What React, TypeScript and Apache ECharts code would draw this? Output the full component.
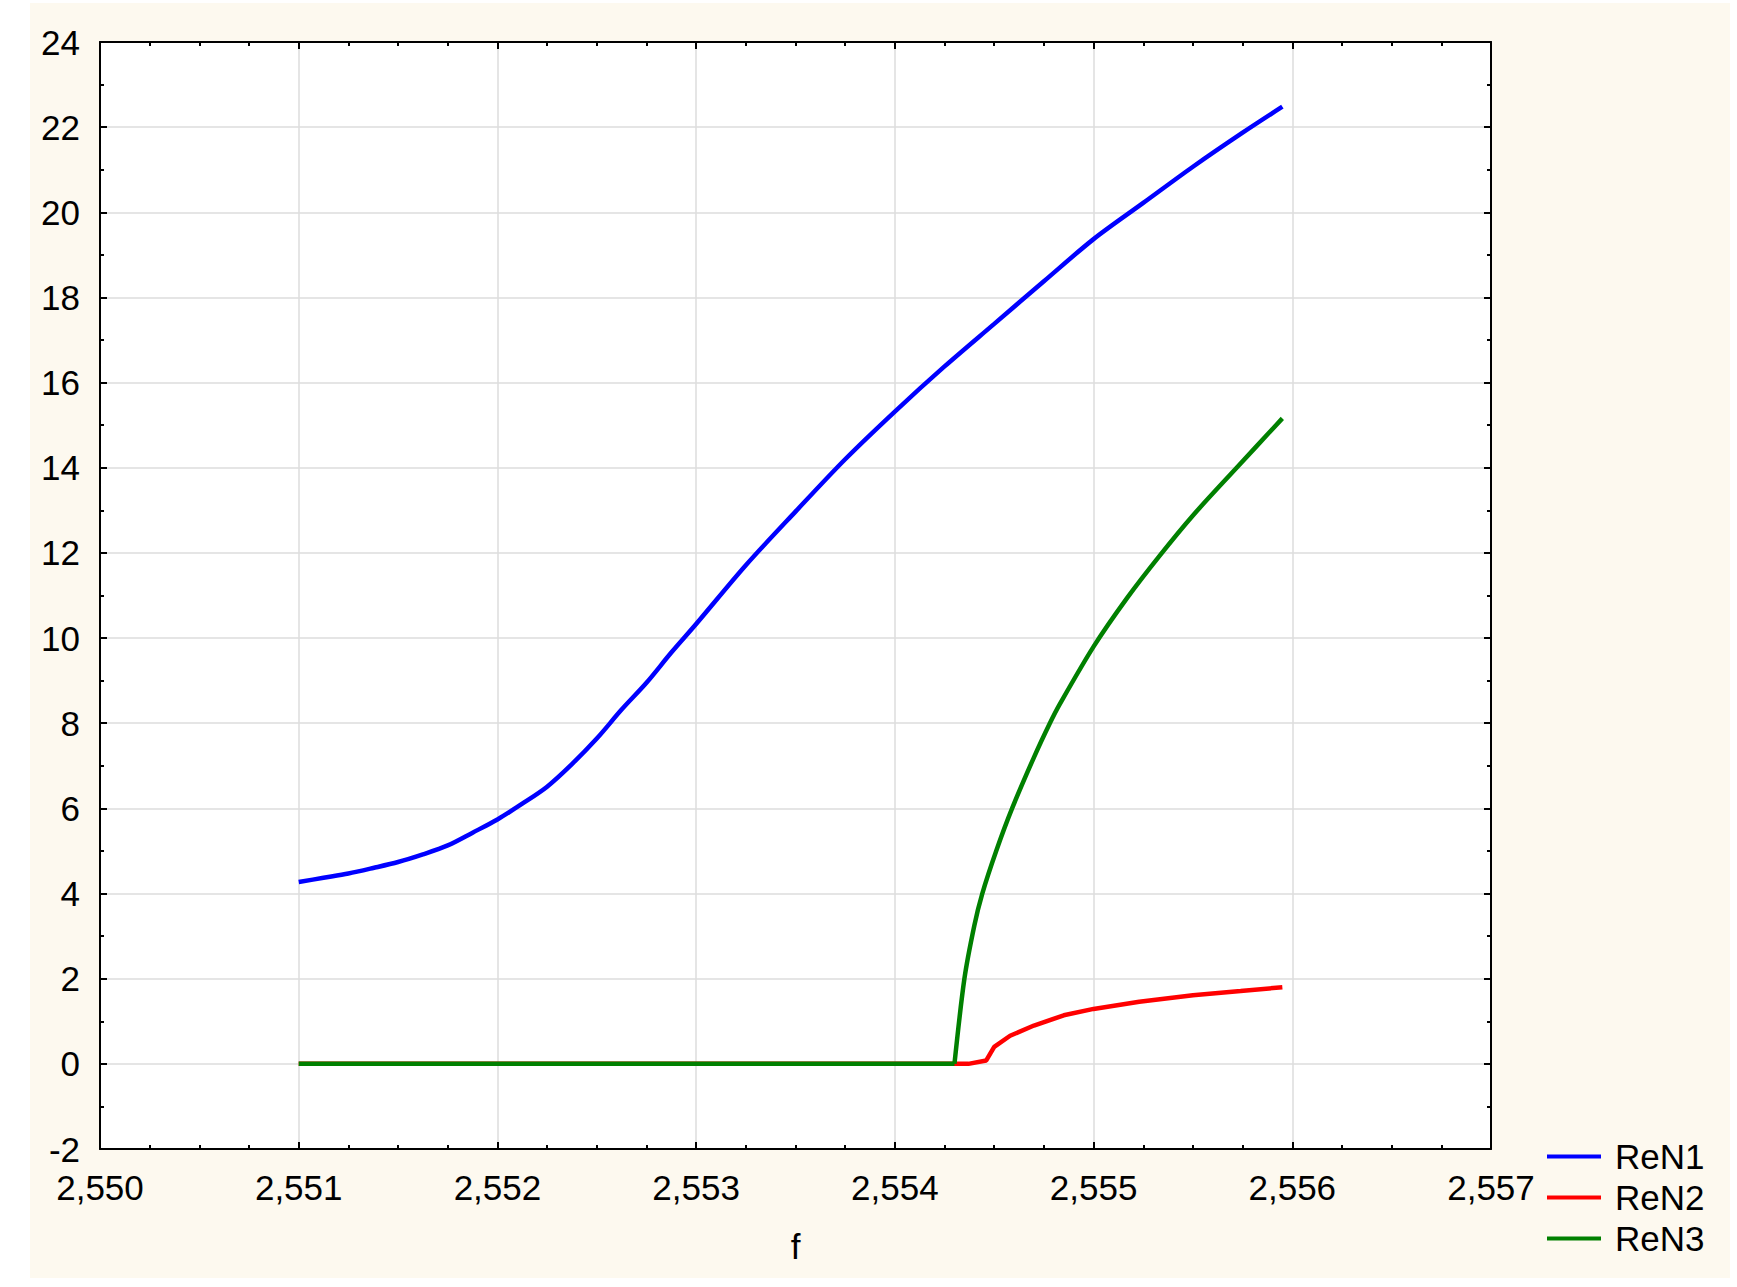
import React, { useEffect, useRef } from "react";
import * as echarts from "echarts";

// f values and ReN1 readings
const F1 = [2.551, 2.551125, 2.55125, 2.551375, 2.5515, 2.551625, 2.55175, 2.551875, 2.552, 2.552125, 2.55225, 2.552375, 2.5525, 2.552625, 2.55275, 2.552875, 2.553, 2.55325, 2.5535, 2.55375, 2.554, 2.55425, 2.5545, 2.55475, 2.555, 2.55525, 2.5555, 2.55575, 2.55595];
const RE_N1 = [4.27, 4.37, 4.47, 4.6, 4.74, 4.92, 5.13, 5.43, 5.74, 6.11, 6.51, 7.04, 7.64, 8.32, 8.95, 9.66, 10.33, 11.71, 12.97, 14.2, 15.32, 16.38, 17.38, 18.38, 19.37, 20.22, 21.07, 21.87, 22.48];

// ReN2
const F2 = [2.551, 2.5543, 2.55437, 2.55446, 2.5545, 2.55458, 2.5547, 2.55485, 2.555, 2.55523, 2.5555, 2.55574, 2.55595];
const RE_N2 = [0, 0, 0, 0.08, 0.4, 0.66, 0.9, 1.14, 1.29, 1.46, 1.61, 1.71, 1.8];

// ReN3 (zero branch, then the rising branch from the onset)
const F3_FLAT = [2.551, 2.5543];
const RE_N3_FLAT = [0, 0];
const F3 = [2.5543, 2.55435, 2.5544, 2.55444, 2.55451, 2.55459, 2.5547, 2.55478, 2.55483, 2.555, 2.55517, 2.55533, 2.5555, 2.55572, 2.55595];
const RE_N3 = [0, 2.0, 3.25, 4.0, 5.0, 6.0, 7.2, 8.0, 8.45, 9.8, 10.95, 11.92, 12.88, 14.0, 15.16];

const SERIES_NAMES = ["ReN1", "ReN2", "ReN3"];
const SERIES_COLORS = ["#0000ff", "#ff0000", "#008000"];

const X_MIN = 2.55;
const X_MAX = 2.557;
const X_STEP = 0.001;
const Y_MIN = -2;
const Y_MAX = 24;
const Y_STEP = 2;

const FONT = "'Liberation Sans', Arial, sans-serif";

function pairs(xs: number[], ys: number[]) {
  return xs.map((x, i) => [x, ys[i]]);
}

export default function App() {
  const ref = useRef<HTMLDivElement>(null);

  useEffect(() => {
    document.body.style.margin = "0";
    if (!ref.current) return;
    const chart = echarts.init(ref.current, undefined, { renderer: "svg" });

    const tickStyle = { color: "#000", width: 2 };
    const baseX = {
      type: "value" as const,
      min: X_MIN,
      max: X_MAX,
      interval: X_STEP,
      axisLine: { show: true, onZero: false, lineStyle: { color: "#000", width: 2 } },
      axisTick: { show: true, inside: true, length: 7, lineStyle: tickStyle },
      minorTick: { show: true, splitNumber: 4, length: 4, lineStyle: tickStyle },
    };
    const baseY = {
      type: "value" as const,
      min: Y_MIN,
      max: Y_MAX,
      interval: Y_STEP,
      axisLine: { show: true, onZero: false, lineStyle: { color: "#000", width: 2 } },
      axisTick: { show: true, inside: true, length: 7, lineStyle: tickStyle },
      minorTick: { show: true, splitNumber: 2, length: 4, lineStyle: tickStyle },
    };

    const lineSeries = (name: string, color: string, data: number[][], smooth: number, z: number) => ({
      name,
      type: "line",
      xAxisIndex: 0,
      yAxisIndex: 0,
      data,
      symbol: "none",
      smooth,
      color,
      lineStyle: { color, width: 4.5 },
      z,
    });

    chart.setOption({
      animation: false,
      backgroundColor: "transparent",
      textStyle: { fontFamily: FONT },
      grid: {
        left: 100,
        top: 42,
        width: 1391,
        height: 1107,
        show: true,
        backgroundColor: "#ffffff",
        borderWidth: 0,
      },
      legend: {
        orient: "vertical",
        left: 1542,
        top: 1134,
        itemWidth: 54,
        itemHeight: 4,
        itemGap: 6,
        icon: "rect",
        data: SERIES_NAMES,
        textStyle: {
          fontSize: 35,
          lineHeight: 35,
          color: "#000",
          fontFamily: FONT,
          padding: [0, 0, 0, 9],
        },
      },
      xAxis: [
        {
          ...baseX,
          position: "bottom",
          name: "f",
          nameLocation: "middle",
          nameGap: 80,
          nameTextStyle: { fontSize: 35, color: "#000", fontFamily: FONT },
          axisLabel: {
            fontSize: 35,
            color: "#000",
            margin: 21,
            fontFamily: FONT,
            formatter: (v: number) => v.toFixed(3).replace(".", ","),
          },
          splitLine: { show: true, lineStyle: { color: "#dcdcdc", width: 1.5 } },
        },
        {
          ...baseX,
          position: "top",
          axisLabel: { show: false },
          splitLine: { show: false },
        },
      ],
      yAxis: [
        {
          ...baseY,
          position: "left",
          axisLabel: {
            fontSize: 35,
            color: "#000",
            margin: 20,
            fontFamily: FONT,
            formatter: (v: number) => String(v),
          },
          splitLine: { show: true, lineStyle: { color: "#dcdcdc", width: 1.5 } },
        },
        {
          ...baseY,
          position: "right",
          axisLabel: { show: false },
          splitLine: { show: false },
        },
      ],
      series: [
        lineSeries(SERIES_NAMES[0], SERIES_COLORS[0], pairs(F1, RE_N1), 0.3, 3),
        lineSeries(SERIES_NAMES[1], SERIES_COLORS[1], pairs(F2, RE_N2), 0, 4),
        lineSeries(SERIES_NAMES[2], SERIES_COLORS[2], pairs(F3_FLAT, RE_N3_FLAT), 0, 5),
        lineSeries(SERIES_NAMES[2], SERIES_COLORS[2], pairs(F3, RE_N3), 0.3, 5),
      ],
    });

    return () => {
      chart.dispose();
    };
  }, []);

  return (
    <div style={{ position: "relative", width: 1737, height: 1287, background: "#ffffff" }}>
      <div
        style={{
          position: "absolute",
          left: 30,
          top: 3,
          width: 1700,
          height: 1275,
          background: "#fdf9ef",
        }}
      />
      <div ref={ref} style={{ position: "absolute", left: 0, top: 0, width: 1737, height: 1287 }} />
    </div>
  );
}
